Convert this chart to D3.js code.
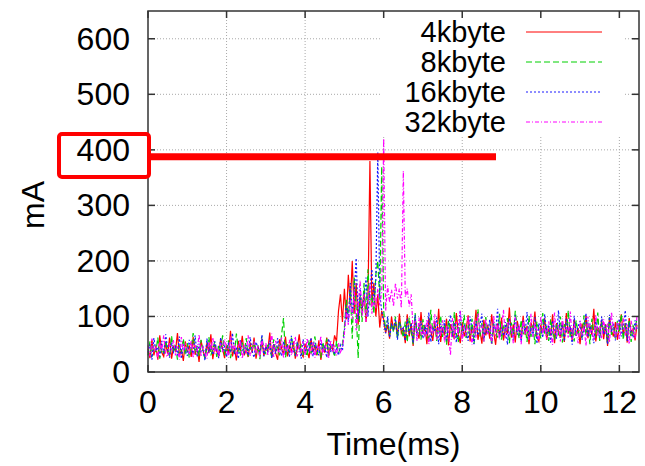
<!DOCTYPE html>
<html>
<head>
<meta charset="utf-8">
<script src="https://cdn.jsdelivr.net/npm/d3@7"></script>
<style>
  body { margin: 0; background: #fff; }
  text { font-family: 'Liberation Sans', Arial, sans-serif; fill: #000; }
</style>
</head>
<body>
<svg id="chart" width="645" height="466"></svg>
<script>
// sample interval of the recording, ms
const dt = 0.05

const xTicks = [0, 2, 4, 6, 8, 10, 12]
const yTicks = [0, 100, 200, 300, 400, 500, 600]

const seriesNames = ['4kbyte', '8kbyte', '16kbyte', '32kbyte']

const current4k = [
  42, 25, 58, 30, 47, 22, 66, 35, 28, 51,
  33, 62, 24, 45, 38, 70, 29, 41, 20, 55,
  36, 48, 27, 63, 31, 44, 18, 57, 39, 26,
  52, 34, 68, 23, 46, 37, 29, 60, 41, 25,
  49, 32, 74, 28, 43, 21, 56, 38, 65, 30,
  40, 27, 53, 35, 62, 24, 47, 33, 58, 29,
  45, 38, 71, 26, 50, 34, 22, 59, 43, 31,
  64, 28, 46, 37, 55, 24, 42, 68, 33, 27,
  51, 39, 25, 60, 36, 48, 30, 57, 22, 44,
  35, 62, 29, 47, 40, 66, 55, 110, 140, 90,
  150, 95, 175, 120, 200, 105, 160, 85, 135, 110,
  145, 90, 130, 380, 120, 160, 100, 140, 80, 110,
  95, 70, 85, 60, 100, 75, 90, 65, 105, 70,
  78, 52, 104, 64, 88, 47, 95, 72, 60, 108,
  68, 84, 50, 98, 74, 56, 92, 62, 114, 54,
  80, 66, 96, 48, 86, 72, 59, 106, 68, 52,
  90, 64, 78, 102, 55, 83, 70, 112, 58, 76,
  51, 94, 66, 85, 60, 104, 72, 49, 88, 65,
  98, 57, 80, 69, 116, 62, 86, 53, 92, 74,
  60, 101, 67, 83, 50, 89, 76, 109, 63, 55,
  85, 71, 97, 58, 78, 66, 104, 52, 88, 73,
  62, 91, 54, 106, 69, 81, 56, 95, 65, 79,
  50, 87, 72, 101, 61, 84, 67, 114, 55, 80,
  70, 94, 59, 86, 47, 99, 74, 64, 90, 58,
  82, 104, 66, 88, 53, 97, 71, 78, 57, 85
]

const current8k = [
  30, 55, 27, 48, 36, 62, 24, 44, 33, 57,
  40, 28, 65, 35, 50, 22, 46, 38, 60, 31,
  52, 26, 43, 70, 34, 47, 29, 58, 37, 24,
  45, 63, 30, 41, 55, 27, 49, 36, 66, 32,
  38, 57, 25, 46, 34, 69, 40, 29, 53, 35,
  61, 28, 44, 37, 56, 31, 48, 23, 64, 39,
  33, 52, 42, 27, 59, 36, 45, 30, 67, 97,
  26, 50, 35, 62, 44, 29, 55, 38, 48, 32,
  40, 28, 58, 33, 47, 64, 31, 43, 26, 54,
  37, 60, 30, 49, 42, 27, 56, 34, 45, 50,
  80, 130, 95, 150, 60, 170, 110, 25, 140, 90,
  160, 100, 185, 120, 140, 105, 175, 200, 130, 370,
  110, 75, 95, 65, 88, 72, 100, 60, 92, 78,
  62, 91, 54, 98, 72, 50, 106, 67, 83, 58,
  95, 65, 79, 52, 112, 71, 88, 56, 81, 101,
  63, 86, 49, 93, 76, 61, 108, 68, 54, 90,
  74, 103, 59, 84, 66, 96, 51, 80, 113, 64,
  88, 55, 99, 70, 81, 48, 92, 73, 62, 105,
  58, 85, 71, 97, 52, 89, 65, 110, 77, 60,
  94, 68, 82, 54, 101, 63, 87, 50, 91, 75,
  61, 106, 69, 83, 56, 95, 72, 58, 88, 66,
  100, 53, 86, 71, 111, 62, 79, 55, 93, 68,
  84, 59, 102, 66, 89, 50, 96, 74, 62, 107,
  56, 90, 73, 85, 52, 99, 67, 81, 60, 92,
  71, 104, 58, 87, 64, 94, 54, 83, 76, 98
]

const current16k = [
  35, 50, 22, 61, 38, 45, 28, 56, 33, 68,
  41, 26, 53, 36, 47, 30, 64, 24, 49, 39,
  29, 58, 42, 33, 66, 27, 51, 37, 44, 21,
  60, 35, 48, 31, 55, 40, 25, 62, 38, 46,
  27, 53, 36, 70, 32, 45, 24, 58, 41, 34,
  49, 30, 63, 38, 26, 54, 43, 35, 67, 28,
  46, 37, 57, 25, 50, 33, 61, 42, 29, 55,
  36, 48, 27, 65, 39, 31, 52, 44, 24, 59,
  34, 46, 38, 62, 28, 53, 41, 30, 57, 37,
  45, 26, 60, 36, 50, 32, 42, 30, 48, 38,
  75, 120, 90, 160, 105, 140, 205, 95, 150, 115,
  130, 170, 100, 150, 185, 120, 165, 395, 140, 110,
  90, 70, 100, 62, 85, 78, 96, 58, 90, 75,
  80, 56, 96, 69, 88, 52, 103, 64, 77, 92,
  60, 85, 67, 107, 54, 80, 72, 98, 50, 87,
  69, 93, 57, 82, 103, 64, 89, 53, 78, 111,
  62, 86, 71, 56, 100, 75, 50, 92, 66, 83,
  105, 59, 78, 68, 94, 52, 87, 72, 114, 61,
  81, 65, 90, 49, 97, 74, 58, 102, 67, 85,
  55, 92, 70, 108, 60, 80, 64, 99, 51, 88,
  76, 62, 104, 69, 85, 53, 93, 78, 60, 111,
  66, 89, 55, 97, 73, 83, 49, 101, 65, 82,
  92, 58, 78, 106, 63, 87, 70, 52, 95, 75,
  61, 100, 68, 84, 50, 103, 72, 88, 57, 80,
  96, 64, 81, 111, 56, 89, 71, 62, 93, 77
]

const current32k = [
  48, 28, 60, 35, 44, 24, 55, 38, 66, 31,
  27, 52, 39, 58, 30, 46, 22, 63, 37, 50,
  42, 31, 57, 25, 49, 36, 68, 29, 45, 34,
  24, 55, 40, 62, 33, 47, 28, 51, 36, 59,
  45, 26, 64, 37, 52, 30, 43, 57, 24, 48,
  35, 66, 29, 42, 55, 33, 47, 26, 60, 38,
  52, 31, 45, 69, 27, 56, 40, 34, 62, 25,
  47, 36, 58, 30, 44, 64, 28, 50, 39, 55,
  29, 61, 41, 33, 54, 26, 48, 37, 65, 31,
  50, 40, 24, 57, 35, 46, 30, 52, 36, 44,
  70, 110, 85, 130, 95, 150, 75, 120, 165, 100,
  140, 90, 125, 160, 105, 135, 115, 150, 120, 145,
  420, 110, 155, 125, 148, 118, 160, 132, 150, 115,
  362, 135, 150, 118, 140, 75, 92, 56, 98, 66,
  78, 62, 95, 50, 86, 69, 104, 58, 81, 65,
  93, 53, 84, 72, 30, 97, 60, 90, 67, 110,
  56, 82, 65, 100, 74, 49, 91, 62, 107, 71,
  85, 54, 96, 68, 79, 51, 102, 64, 88, 58,
  77, 112, 61, 90, 66, 83, 52, 99, 73, 86,
  50, 94, 69, 80, 57, 105, 63, 88, 75, 54,
  100, 67, 83, 59, 91, 72, 49, 107, 64, 85,
  55, 96, 70, 81, 62, 109, 58, 87, 74, 52,
  92, 65, 84, 47, 100, 71, 78, 56, 103, 66,
  82, 60, 95, 69, 87, 53, 108, 75, 62, 90,
  58, 79, 97, 65, 86, 50, 92, 73, 61, 102
]

const seriesValues = [current4k, current8k, current16k, current32k]
const seriesColors = ['#ff0000', '#00d000', '#1a1aff', '#ff00ff']
const seriesDash = [null, '6,3', '2,2', '4,2,1,2']

//
const svg = d3.select('#chart')
const plotLeft = 148
const plotRight = 639
const plotTop = 11
const plotBottom = 372

const x = d3.scaleLinear().domain([0, 12.5]).range([plotLeft, plotRight])
const y = d3.scaleLinear().domain([0, 650]).range([plotBottom, plotTop])

svg.append('rect').attr('width', 645).attr('height', 466).attr('fill', '#fff')

// grid
const grid = svg.append('g')
  .attr('stroke', '#a8a8a8')
  .attr('stroke-width', 1)
  .attr('stroke-dasharray', '1,2')
grid.selectAll('.gx')
  .data(xTicks.filter(d => d > 0))
  .join('line')
  .attr('x1', d => x(d)).attr('x2', d => x(d))
  .attr('y1', plotTop).attr('y2', plotBottom)
grid.selectAll('.gy')
  .data(yTicks.filter(d => d > 0))
  .join('line')
  .attr('x1', plotLeft).attr('x2', plotRight)
  .attr('y1', d => y(d)).attr('y2', d => y(d))

// series
const line = d3.line()
  .x((d, i) => x(i * dt))
  .y(d => y(d))

const plot = svg.append('g')
seriesValues.forEach((values, k) => {
  plot.append('path')
    .datum(values)
    .attr('d', line)
    .attr('fill', 'none')
    .attr('stroke', seriesColors[k])
    .attr('stroke-width', 1.2)
    .attr('stroke-dasharray', seriesDash[k])
})

// legend box (opaque)
const legend = svg.append('g')
legend.append('rect')
  .attr('x', 380).attr('y', 13)
  .attr('width', 244).attr('height', 124)
  .attr('fill', '#fff')
const legendY = [32, 62, 92, 122]
seriesNames.forEach((name, k) => {
  legend.append('text')
    .attr('x', 506).attr('y', legendY[k] + 10)
    .attr('text-anchor', 'end')
    .attr('font-size', 29)
    .text(name)
  legend.append('line')
    .attr('x1', 526).attr('x2', 602)
    .attr('y1', legendY[k]).attr('y2', legendY[k])
    .attr('stroke', seriesColors[k])
    .attr('stroke-width', 1)
    .attr('stroke-dasharray', seriesDash[k])
})

// border and ticks
svg.append('rect')
  .attr('x', plotLeft).attr('y', plotTop)
  .attr('width', plotRight - plotLeft).attr('height', plotBottom - plotTop)
  .attr('fill', 'none')
  .attr('stroke', '#333')
  .attr('stroke-width', 1.5)

const ticks = svg.append('g').attr('stroke', '#333').attr('stroke-width', 1.5)
xTicks.forEach(d => {
  ticks.append('line').attr('x1', x(d)).attr('x2', x(d)).attr('y1', plotBottom).attr('y2', plotBottom - 7)
  ticks.append('line').attr('x1', x(d)).attr('x2', x(d)).attr('y1', plotTop).attr('y2', plotTop + 7)
})
yTicks.forEach(d => {
  ticks.append('line').attr('x1', plotLeft).attr('x2', plotLeft + 7).attr('y1', y(d)).attr('y2', y(d))
  ticks.append('line').attr('x1', plotRight).attr('x2', plotRight - 7).attr('y1', y(d)).attr('y2', y(d))
})

svg.append('g').selectAll('text')
  .data(xTicks)
  .join('text')
  .attr('x', d => x(d))
  .attr('y', 413)
  .attr('text-anchor', 'middle')
  .attr('font-size', 32)
  .text(d => d)

svg.append('g').selectAll('text')
  .data(yTicks)
  .join('text')
  .attr('x', 130)
  .attr('y', d => y(d) + 11)
  .attr('text-anchor', 'end')
  .attr('font-size', 32)
  .text(d => d)

svg.append('text')
  .attr('x', (plotLeft + plotRight) / 2)
  .attr('y', 455)
  .attr('text-anchor', 'middle')
  .attr('font-size', 32)
  .text('Time(ms)')

svg.append('text')
  .attr('transform', 'translate(44,205) rotate(-90)')
  .attr('text-anchor', 'middle')
  .attr('font-size', 32)
  .text('mA')

// highlight annotation
svg.append('rect')
  .attr('x', 59).attr('y', 134)
  .attr('width', 90).attr('height', 43)
  .attr('rx', 3)
  .attr('fill', 'none')
  .attr('stroke', '#ff0000')
  .attr('stroke-width', 4)
svg.append('line')
  .attr('x1', 151).attr('x2', 496)
  .attr('y1', y(400) + 7).attr('y2', y(400) + 7)
  .attr('stroke', '#ff0000')
  .attr('stroke-width', 7)
</script>
</body>
</html>
